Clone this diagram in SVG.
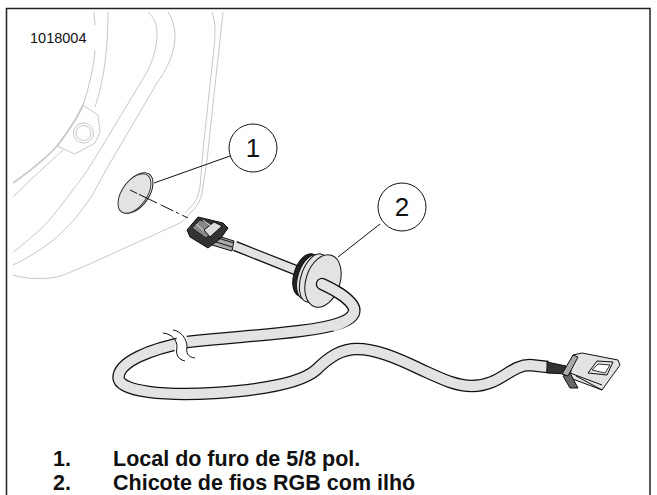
<svg xmlns="http://www.w3.org/2000/svg" width="657" height="495" viewBox="0 0 657 495">
<style>
.g{fill:none;stroke:#c8c8c8;stroke-width:1}
.k{fill:none;stroke:#111;stroke-width:1}
.cb{fill:none;stroke:#111;stroke-width:12.500}
.cf{fill:none;stroke:#e3e3e3;stroke-width:10}
.sb{fill:none;stroke:#111;stroke-width:10.500}
.sf{fill:none;stroke:#e3e3e3;stroke-width:8}
.b{font-family:"Liberation Sans",Arial,sans-serif;font-size:21.500px;font-weight:bold;fill:#111}
.n{font-family:"Liberation Sans",Arial,sans-serif;font-size:26px;fill:#111;text-anchor:middle}
</style>
<rect width="657" height="495" fill="#fff"/>
<path d="M6.500 495V8.500H650V495" fill="none" stroke="#222" stroke-width="1.500"/>
<g id="panel">
<path class="g" d="M94 12L95 25M95 50C94 65 89 88 83 105"/>
<path class="g" d="M108 12C108 50 104 80 95 107"/>
<path class="g" d="M83 105L98 115L100 132L95 143L75 154L57 146"/>
<path d="M83 105L77 117C70 128 65 136 57 146C48 156 30 171 13 183" fill="none" stroke="#c8c8c8" stroke-width="1.800"/>
<path class="g" d="M63 150C50 162 30 180 13 197"/>
<circle class="g" cx="83.500" cy="133" r="10"/><circle class="g" cx="83.500" cy="133" r="7.500"/>
<path class="g" d="M148 12C154 18 157 23 157 35C157 47 153 60 147 72L100 150C88 170 78 184 75 187C64 202 52 218 40 230C30 238 22 246 13 252"/>
<path class="g" d="M168 12C173 20 175 28 175 36C175 55 165 72 157 83L110 163C100 180 95 192 87 203C78 216 68 227 57 237C44 248 28 258 13 265"/>
<path class="g" d="M212 12C214 18 215 24 215 30C215 40 214 50 213 57L203 150L200 187C199 193 197 198 195 202L185 213"/>
<path class="g" d="M223 12L220 40L207 160L202 193C200 202 196 208 190 213C186 218 184 221 180 223L83 267C70 272 65 275 57 277C45 279 30 280 13 275"/>
</g>
<g id="hole">
<ellipse cx="136" cy="193" rx="13" ry="23" transform="rotate(35 136 193)" fill="#fff" stroke="#111"/>
<ellipse cx="134.500" cy="193.500" rx="12.500" ry="22.500" transform="rotate(35 134.500 193.500)" fill="#e3e3e3" stroke="#333"/>
</g>
<g id="connectors">
<path class="k" d="M154 183L230 156"/>
<path class="k" stroke-dasharray="8 2 20 4 14 3 3 4" d="M130 190L188 218"/>
<path class="k" d="M338 257L380 224"/>
</g>
<g id="callout-1"><circle cx="253" cy="148" r="24" fill="#fff" stroke="#111"/><text class="n" x="253" y="157">1</text></g>
<g id="callout-2"><circle cx="402" cy="207" r="24" fill="#fff" stroke="#111"/><text class="n" x="402" y="216">2</text></g>
<g id="harness">
<path class="sb" d="M235 246L298 271"/>
<path class="sf" d="M234 245.600L298 271"/>
<path class="cb" d="M322 284C335 290 350 298 354 308C357 320 335 327 300 331C260 336 230 337 187 342C150 349 118 362 118.500 378C120 392 165 396 215 393C260 390 300 384 316 370C330 356 342 349 357 349C375 349 395 357 420 369C440 378 455 386 472 386C500 386 510 365 530 365L548 367"/>
<path class="cf" d="M322 284C335 290 350 298 354 308C357 320 335 327 300 331C260 336 230 337 187 342C150 349 118 362 118.500 378C120 392 165 396 215 393C260 390 300 384 316 370C330 356 342 349 357 349C375 349 395 357 420 369C440 378 455 386 472 386C500 386 510 365 530 365L547 367"/>
<path fill="#fff" d="M173 330C178 334 177 342 175 347C174 352 175 356 177 358H189C186 354 186 350 187 347C188 342 187 336 185 330Z"/>
<path class="k" d="M163 333C172 334 177 340 177 347C176 352 176 359 185 361M173 330C181 331 187 339 187 347C186 352 187 357 195 358"/>
<ellipse cx="306" cy="275" rx="12" ry="22" transform="rotate(18 306 275)" fill="#222" stroke="#111"/>
<ellipse cx="310" cy="277" rx="12" ry="23" transform="rotate(18 310 277)" fill="#e3e3e3" stroke="#111"/>
<ellipse cx="314" cy="278" rx="13" ry="25" transform="rotate(18 314 278)" fill="#e3e3e3" stroke="#111"/>
<ellipse cx="323" cy="281" rx="17" ry="27" transform="rotate(18 323 281)" fill="#e3e3e3" stroke="#111"/>
<path class="cb" stroke-linecap="round" d="M322 284C335 290 350 298 354 308"/>
<path class="cf" stroke-linecap="round" d="M322 284C335 290 350 298 354 308C356 316 346 322 335 326"/>
</g>
<g id="plug-left">
<path d="M215 235L234 241L232 251L212 245Z" fill="#aaa" stroke="#111"/>
<path d="M187 230L198 217L223 223L228 228L221 238L208 248L190 237Z" fill="#333" stroke="#111"/>
<path d="M192 228L200 220L218 226L206 238Z" fill="#888" stroke="#222"/>
<path d="M204 230L214 222L222 226L210 237Z" fill="#ddd" stroke="#111"/>
<path d="M218 238L234 243M216 242L232 247" stroke="#111" fill="none"/>
<path d="M203 220L211 226M196 224L204 231" stroke="#ddd" fill="none"/>
</g>
<g id="plug-right">
<path d="M547 362L566 366L566 374L547 373Z" fill="#333" stroke="#111"/>
<path d="M573 355L582 353L618 360L620 365L602 390L570 378Z" fill="#e3e3e3" stroke="#111"/>
<path d="M588 373L597 361L613 362L607 375Z" fill="#e3e3e3" stroke="#111"/>
<path d="M592 370L598 364L610 365L605 373Z" fill="#fff" stroke="#333"/>
<path d="M563 376L570 373L578 388L570 388Z" fill="#666" stroke="#111"/>
<path d="M562 374L573 355L578 357L568 376Z" fill="#aaa" stroke="#111"/>
<path d="M570 373L602 385M576 376L602 390" stroke="#111" fill="none"/>
</g>
<g id="legend">
<text class="b" x="53" y="466">1.</text><text class="b" x="113" y="466">Local do furo de 5/8 pol.</text>
<text class="b" x="53" y="490">2.</text><text class="b" x="113" y="490">Chicote de fios RGB com ilhó</text>
</g>
<text x="30" y="43" font-family="'Liberation Sans',Arial,sans-serif" font-size="14.500" fill="#111">1018004</text>
</svg>
